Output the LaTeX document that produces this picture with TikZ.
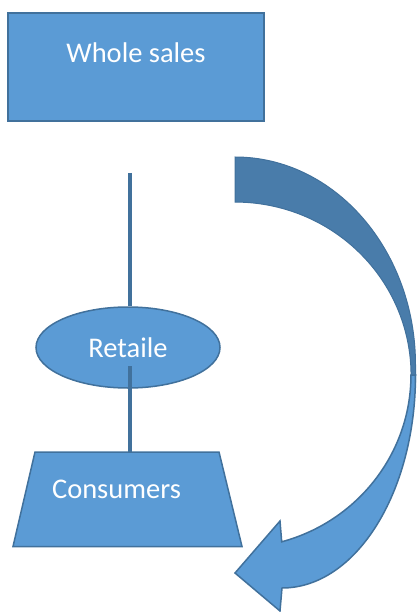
\documentclass[tikz,border=0pt]{standalone}
\usepackage{fontspec}
\setmainfont{Carlito}
\usetikzlibrary{shapes.geometric}
\definecolor{boxfill}{HTML}{5B9BD5}
\definecolor{boxline}{HTML}{41719C}
\definecolor{backfill}{HTML}{497CAA}

\begin{document}
\begin{tikzpicture}[x=1pt,y=-1pt,
  blk/.style={draw=boxline,line width=1.5pt,fill=boxfill,inner sep=0pt},
  txt/.style={text=white,font=\fontsize{28.5}{34}\selectfont,inner sep=0pt},
  link/.style={draw=boxline,line width=4.5pt}]
  \useasboundingbox (0,0) rectangle (416,612);

  % Wholesale box
  \node[blk,rectangle,minimum width=256pt,minimum height=108pt] (whole) at (136,67) {};
  \node[txt] (wholetxt) at (136,53) {Whole sales};

  % Retail
  \node[blk,ellipse,minimum width=184pt,minimum height=81pt,txt] (retail) at (128,347.5) {Retaile};

  % Consumers
  \draw[blk] (35,452) coordinate (constop) -- (219,452) -- (242,546.5) -- (13,546.5) -- cycle;
  \node[txt] (cons) at (116.5,489) {Consumers};

  % Links
  \coordinate (feed) at (130,173);
  \draw[link] (feed) -- (feed |- retail.north);
  \coordinate (tap) at (130,366);
  \draw[link] (tap) -- (tap |- constop);

  % Curved arrow, back part
  \filldraw[fill=backfill,draw=boxline,line width=1pt]
    (235,157) arc[start angle=-90,end angle=0,x radius=180.5,y radius=208]
    -- (415.5,382) -- (410.9,382)
    arc[start angle=2.3,end angle=-90,x radius=176,y radius=173] -- cycle;

  % Curved arrow, front part
  \filldraw[fill=boxfill,draw=boxline,line width=1.5pt]
    (415.5,375) arc[start angle=0,end angle=90,x radius=133.5,y radius=213]
    -- (280,611) -- (235,573) -- (280,521) -- (281.7,541.8)
    arc[start angle=74.6,end angle=0,x radius=176,y radius=173] -- cycle;
\end{tikzpicture}
\end{document}
